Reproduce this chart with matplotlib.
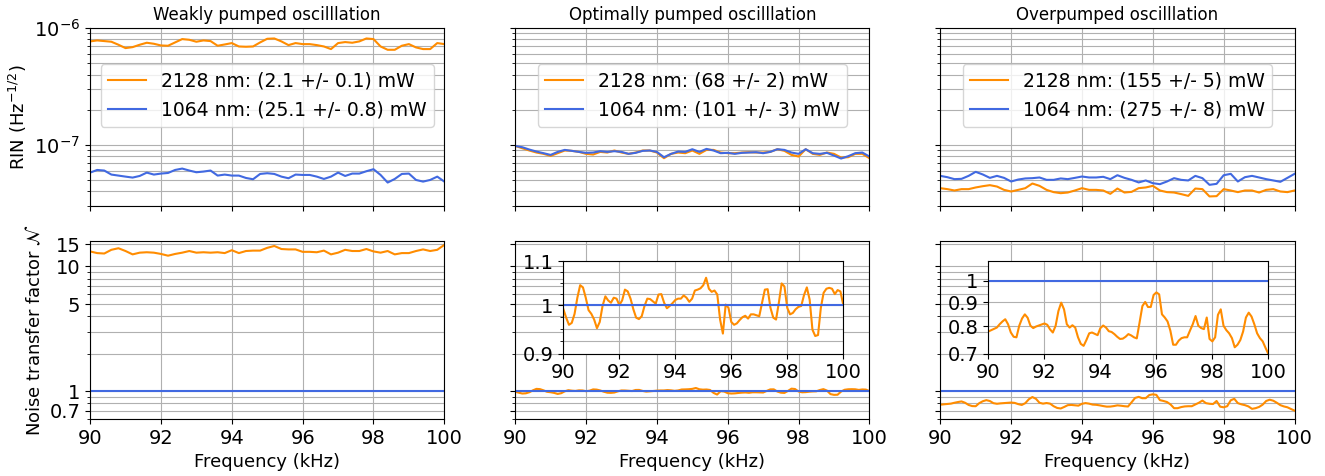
import matplotlib
matplotlib.use('Agg')
import matplotlib.pyplot as plt
import numpy as np
from matplotlib.ticker import NullFormatter

# frequency axes (kHz)
freq = np.round(np.linspace(90, 100, 51), 1)        # RIN traces, 0.2 kHz steps
freq_fine = np.round(np.linspace(90, 100, 101), 1)  # noise transfer factor, 0.1 kHz steps

titles = ['Weakly pumped oscilllation', 'Optimally pumped oscilllation', 'Overpumped oscilllation']
labels_2128 = ['2128 nm: (2.1 +/- 0.1) mW', '2128 nm: (68 +/- 2) mW', '2128 nm: (155 +/- 5) mW']
labels_1064 = ['1064 nm: (25.1 +/- 0.8) mW', '1064 nm: (101 +/- 3) mW', '1064 nm: (275 +/- 8) mW']

# RIN in units of 1e-8 / sqrt(Hz)
rin_2128_weak = [76.9, 78.4, 77.4, 76.4, 72.0, 67.4, 68.7, 72.0, 74.9, 73.4, 71.0, 70.6, 75.4,
                 80.5, 79.4, 76.4, 78.4, 77.4, 70.6, 72.4, 74.4, 69.6, 69.2, 69.6, 75.4, 81.0,
                 81.5, 76.9, 71.5, 74.4, 72.9, 72.9, 71.5, 69.6, 66.1, 74.4, 75.9, 74.9, 76.9,
                 81.5, 80.5, 69.6, 65.2, 65.2, 70.6, 72.9, 68.3, 66.1, 66.1, 74.4, 72.9]
rin_1064_weak = [5.79, 6.10, 6.03, 5.57, 5.46, 5.35, 5.25, 5.42, 5.79, 5.57, 5.68, 5.75, 6.10,
                 6.27, 6.03, 5.83, 5.91, 6.03, 5.46, 5.57, 5.46, 5.46, 5.21, 5.08, 5.64, 5.72,
                 5.64, 5.35, 5.18, 5.57, 5.53, 5.53, 5.35, 5.11, 5.35, 5.79, 5.42, 5.68, 5.68,
                 5.95, 6.19, 5.53, 4.76, 5.11, 5.64, 5.68, 5.01, 4.85, 5.01, 5.35, 4.85]
rin_2128_opt = [9.80, 9.36, 8.95, 8.60, 8.38, 8.05, 8.49, 8.95, 8.89, 8.71, 8.38, 8.27, 8.71,
                8.60, 8.95, 8.60, 8.38, 8.60, 8.95, 8.95, 8.60, 7.69, 8.38, 8.60, 8.49, 8.95,
                8.38, 9.06, 9.06, 8.60, 8.49, 8.49, 8.60, 8.66, 8.60, 8.60, 8.71, 9.18, 8.89,
                8.21, 7.95, 9.18, 8.38, 8.21, 8.60, 8.38, 7.79, 7.84, 8.38, 8.38, 7.69]
rin_1064_opt = [9.80, 9.55, 9.12, 8.77, 8.49, 8.21, 8.71, 9.06, 8.89, 8.71, 8.55, 8.60, 8.83,
                8.71, 8.83, 8.71, 8.38, 8.55, 8.89, 8.95, 8.71, 7.84, 8.38, 8.77, 8.71, 9.18,
                8.71, 9.24, 8.95, 8.49, 8.55, 8.38, 8.55, 8.60, 8.66, 8.49, 8.71, 9.18, 9.06,
                8.60, 8.38, 9.18, 8.49, 8.38, 8.55, 8.10, 7.64, 8.00, 8.49, 8.60, 7.95]
rin_2128_over = [4.26, 4.18, 4.07, 4.18, 4.18, 4.32, 4.43, 4.52, 4.40, 4.12, 3.99, 4.12, 4.26,
                 4.67, 4.46, 4.12, 3.94, 3.86, 3.91, 4.07, 4.26, 4.12, 4.12, 4.07, 3.81, 4.23,
                 3.91, 3.96, 4.26, 4.32, 4.46, 4.07, 3.94, 3.91, 3.79, 3.66, 4.23, 4.18, 3.62,
                 3.64, 4.18, 4.07, 3.94, 4.07, 4.07, 3.91, 4.12, 4.18, 3.99, 3.94, 4.07]
rin_1064_over = [5.43, 5.29, 5.09, 5.12, 5.43, 5.88, 5.58, 5.22, 5.43, 5.22, 4.86, 5.05, 5.16,
                 5.19, 5.26, 5.02, 5.02, 5.16, 5.09, 5.22, 5.36, 5.26, 5.26, 5.33, 5.09, 5.50,
                 5.22, 5.02, 4.77, 4.96, 4.70, 4.61, 4.86, 5.19, 5.02, 4.96, 5.43, 5.19, 4.55,
                 4.64, 5.50, 5.65, 4.86, 5.29, 5.43, 5.26, 5.09, 4.96, 4.83, 5.22, 5.65]

# noise transfer factor of the 2128 nm field
ntf_weak = [13.2, 12.8, 12.7, 13.6, 14.0, 13.3, 12.5, 12.9, 13.0, 12.9, 12.6, 12.2, 12.6,
            12.9, 13.3, 12.9, 13.0, 12.9, 13.0, 12.8, 13.5, 12.8, 13.3, 13.4, 13.4, 14.1,
            14.6, 13.8, 13.7, 13.7, 13.1, 13.1, 13.0, 13.4, 12.5, 12.9, 13.6, 13.3, 13.3,
            13.8, 13.2, 12.9, 13.3, 12.5, 12.8, 12.8, 13.3, 13.7, 13.3, 13.6, 14.9]
ntf_opt = [0.991, 0.973, 0.958, 0.962, 0.981, 1.016, 1.044, 1.039, 1.016, 0.989,
           0.981, 0.969, 0.951, 0.964, 0.998, 1.019, 1.010, 1.005, 1.016, 1.014,
           1.000, 1.010, 1.034, 1.030, 1.014, 0.991, 0.973, 0.970, 0.976, 0.998,
           1.014, 1.013, 1.008, 1.003, 1.023, 1.024, 1.005, 0.993, 0.998, 1.004,
           1.011, 1.014, 1.014, 1.021, 1.016, 1.007, 1.014, 1.032, 1.034, 1.037,
           1.044, 1.061, 1.036, 1.029, 1.032, 1.023, 0.969, 0.940, 1.001, 0.994,
           0.964, 0.958, 0.961, 0.968, 0.974, 0.977, 0.971, 0.980, 0.980, 0.978,
           0.976, 1.005, 1.034, 1.035, 0.994, 0.973, 0.969, 1.005, 1.048, 1.041,
           0.994, 0.980, 0.983, 0.991, 0.996, 0.998, 1.022, 1.039, 1.012, 0.948,
           0.935, 0.937, 0.994, 1.027, 1.036, 1.038, 1.036, 1.024, 1.033, 1.030,
           1.001]
ntf_over = [0.780, 0.785, 0.790, 0.795, 0.808, 0.819, 0.828, 0.808, 0.776, 0.760,
            0.758, 0.802, 0.831, 0.848, 0.834, 0.802, 0.793, 0.799, 0.803, 0.807,
            0.811, 0.806, 0.788, 0.776, 0.802, 0.862, 0.898, 0.869, 0.808, 0.795,
            0.804, 0.795, 0.758, 0.734, 0.727, 0.748, 0.773, 0.776, 0.771, 0.766,
            0.793, 0.803, 0.795, 0.781, 0.778, 0.770, 0.760, 0.752, 0.753, 0.760,
            0.770, 0.765, 0.758, 0.754, 0.815, 0.883, 0.901, 0.879, 0.879, 0.932,
            0.944, 0.935, 0.848, 0.835, 0.819, 0.783, 0.731, 0.731, 0.746, 0.755,
            0.758, 0.758, 0.783, 0.808, 0.841, 0.802, 0.793, 0.789, 0.835, 0.752,
            0.743, 0.758, 0.846, 0.869, 0.802, 0.785, 0.773, 0.755, 0.722, 0.731,
            0.748, 0.780, 0.835, 0.855, 0.839, 0.808, 0.773, 0.755, 0.743, 0.720,
            0.699]

rin_2128 = [rin_2128_weak, rin_2128_opt, rin_2128_over]
rin_1064 = [rin_1064_weak, rin_1064_opt, rin_1064_over]
ntf_2128 = [ntf_weak, ntf_opt, ntf_over]
ntf_freq = [freq, freq_fine, freq_fine]
inset_ylim = [None, (0.9, 1.1), (0.7, 1.1)]
inset_ticks = [None, [0.9, 1, 1.1], [0.7, 0.8, 0.9, 1]]

c_or = 'darkorange'
c_bl = 'royalblue'

plt.rcParams['font.size'] = 14
fig, axes = plt.subplots(2, 3, figsize=(13.25, 4.76), dpi=100, sharex=True, sharey='row')
fig.subplots_adjust(left=0.068, right=0.977, top=0.941, bottom=0.12, wspace=0.2, hspace=0.197)

for i in range(3):
    ax = axes[0, i]
    ax.plot(freq, np.array(rin_2128[i]) * 1e-8, color=c_or, lw=1.5, label=labels_2128[i])
    ax.plot(freq, np.array(rin_1064[i]) * 1e-8, color=c_bl, lw=1.5, label=labels_1064[i])
    ax.set_yscale('log')
    ax.set_ylim(3e-8, 1e-6)
    ax.yaxis.set_minor_formatter(NullFormatter())
    ax.grid(True, which='both')
    ax.set_title(titles[i], fontsize=12)
    ax.legend(loc='center', bbox_to_anchor=(0.5, 0.62), fontsize=13.5)

    bx = axes[1, i]
    bx.plot(ntf_freq[i], ntf_2128[i], color=c_or, lw=1.5)
    bx.plot(ntf_freq[i], np.ones(len(ntf_freq[i])), color=c_bl, lw=1.5)
    bx.set_yscale('log')
    bx.set_ylim(0.6, 16)
    bx.set_yticks([0.7, 1, 5, 10, 15], ['0.7', '1', '5', '10', '15'])
    bx.yaxis.set_minor_formatter(NullFormatter())
    bx.grid(True, which='both')
    bx.set_xlim(90, 100)
    bx.set_xticks([90, 92, 94, 96, 98, 100])
    bx.set_xlabel('Frequency (kHz)', fontsize=13)

    if inset_ylim[i] is not None:
        ins = bx.inset_axes([0.136, 0.367, 0.79, 0.52])
        ins.plot(ntf_freq[i], ntf_2128[i], color=c_or, lw=1.5)
        ins.plot(ntf_freq[i], np.ones(len(ntf_freq[i])), color=c_bl, lw=1.5)
        ins.set_yscale('log')
        ins.set_ylim(*inset_ylim[i])
        ins.set_yticks(inset_ticks[i], [f'{t:g}' for t in inset_ticks[i]])
        ins.yaxis.set_minor_formatter(NullFormatter())
        ins.set_xlim(90, 100)
        ins.set_xticks([90, 92, 94, 96, 98, 100])
        ins.grid(True, which='both')

axes[0, 0].set_ylabel('RIN (Hz$^{-1/2}$)', fontsize=13)
axes[1, 0].set_ylabel(r'Noise transfer factor $\mathcal{N}$', fontsize=13)

fig.savefig('out.png')
